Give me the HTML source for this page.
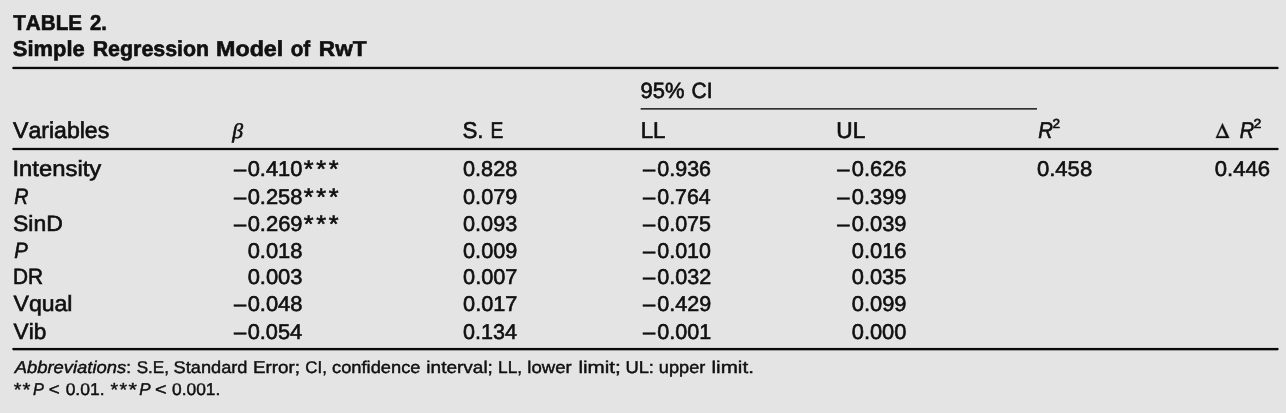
<!DOCTYPE html>
<html><head><meta charset="utf-8"><title>Table 2. Simple Regression Model of RwT</title>
<style>
html,body{margin:0;padding:0;}
body{width:1286px;height:413px;background:#e4e4e4;overflow:hidden;position:relative;font-family:"Liberation Sans",sans-serif;color:#111;}
span{position:absolute;left:0;top:0;white-space:pre;line-height:1;display:block;transform-origin:0 0;-webkit-text-stroke:0.6px #0c0c0c;text-rendering:geometricPrecision;font-kerning:none;}
.f{-webkit-text-stroke-width:0.42px;}
.b{font-weight:bold;}
.i{font-style:italic;}
.s{font-style:italic;font-family:"Liberation Serif",serif;}
div{position:absolute;}
section{position:absolute;left:0;top:0;width:1286px;height:413px;will-change:transform;filter:blur(0.4px);}
</style></head><body><section>
<span class="b" style="font-size:22px;transform:matrix(0.9374,0,0,0.9800,13.27,12.36)">TABLE</span>
<span class="b" style="font-size:22px;transform:matrix(0.9210,0,0,0.9800,90.10,12.36)">2.</span>
<span class="b" style="font-size:22px;transform:matrix(0.9951,0,0,0.9800,12.87,38.36)">Simple</span>
<span class="b" style="font-size:22px;transform:matrix(0.9719,0,0,0.9800,92.67,38.36)">Regression</span>
<span class="b" style="font-size:22px;transform:matrix(1.0575,0,0,0.9800,216.04,38.36)">Model</span>
<span class="b" style="font-size:22px;transform:matrix(0.9424,0,0,0.9800,290.69,38.36)">of</span>
<span class="b" style="font-size:22px;transform:matrix(1.0284,0,0,0.9800,318.79,38.36)">RwT</span>
<div style="left:13px;top:66px;width:1265.0px;height:1px;background:rgba(17,17,17,0.2)"></div>
<div style="left:13px;top:67px;width:1265.0px;height:2px;background:#0a0a0a"></div>
<div style="left:13px;top:69px;width:1265.0px;height:1px;background:rgba(17,17,17,0.12)"></div>
<div style="left:12px;top:67px;width:1.0px;height:2px;background:rgba(10,10,10,0.6)"></div>
<div style="left:1278px;top:67px;width:1.0px;height:2px;background:rgba(10,10,10,0.5)"></div>
<div style="left:13px;top:147px;width:1265.0px;height:1px;background:rgba(17,17,17,0.15)"></div>
<div style="left:13px;top:148px;width:1265.0px;height:2px;background:#0a0a0a"></div>
<div style="left:13px;top:150px;width:1265.0px;height:1px;background:rgba(17,17,17,0.15)"></div>
<div style="left:12px;top:148px;width:1.0px;height:2px;background:rgba(10,10,10,0.6)"></div>
<div style="left:1278px;top:148px;width:1.0px;height:2px;background:rgba(10,10,10,0.5)"></div>
<div style="left:13px;top:347px;width:1265.0px;height:1px;background:rgba(17,17,17,0.08)"></div>
<div style="left:13px;top:348px;width:1265.0px;height:2px;background:#0a0a0a"></div>
<div style="left:13px;top:350px;width:1265.0px;height:1px;background:rgba(17,17,17,0.35)"></div>
<div style="left:12px;top:348px;width:1.0px;height:2px;background:rgba(10,10,10,0.6)"></div>
<div style="left:1278px;top:348px;width:1.0px;height:2px;background:rgba(10,10,10,0.5)"></div>
<div style="left:641px;top:108px;width:396.0px;height:1px;background:#303030"></div>
<div style="left:641px;top:109px;width:396.0px;height:1px;background:#6a6a6a"></div>
<div style="left:640px;top:108px;width:1.0px;height:2px;background:rgba(48,48,48,0.3)"></div>
<span style="font-size:22px;transform:matrix(1.0493,0,0,1.0400,13.00,119.28)">Variables</span>
<span class="s" style="font-size:21px;transform:matrix(1.0310,0,0,1.0000,232.35,121.00)">β</span>
<span style="font-size:22px;transform:matrix(1.0125,0,0,1.0400,462.49,119.28)">S.</span>
<span style="font-size:22px;transform:matrix(0.8722,0,0,1.0400,490.53,119.28)">E</span>
<span style="font-size:22px;transform:matrix(0.9972,0,0,1.0000,640.57,80.00)">95%</span>
<span style="font-size:22px;transform:matrix(0.9548,0,0,1.0000,691.53,80.00)">CI</span>
<span style="font-size:22px;transform:matrix(1.0121,0,0,1.0400,640.67,119.28)">LL</span>
<span style="font-size:22px;transform:matrix(1.0313,0,0,1.0400,836.35,119.28)">UL</span>
<span class="i" style="font-size:22px;transform:matrix(0.9220,0,0,1.0400,1038.28,119.28)">R</span>
<span style="font-size:13px;transform:matrix(1.0469,0,0,1.0000,1052.42,117.00)">2</span>
<svg style="position:absolute;left:1210px;top:118px" width="26" height="24" viewBox="0 0 26 24"><path fill="#111" stroke="#111" stroke-width="0.35" fill-rule="evenodd" d="M5.8 19.9 12.5 5.2 19.3 19.9ZM7.85 18.3 16.02 18.3 11.9 9.41Z"/></svg>
<span class="i" style="font-size:22px;transform:matrix(0.9082,0,0,1.0400,1239.69,119.28)">R</span>
<span style="font-size:13px;transform:matrix(1.0806,0,0,1.0000,1253.59,117.00)">2</span>
<span style="font-size:22px;transform:matrix(1.0832,0,0,1.0000,12.50,158.00)">Intensity</span>
<span style="font-size:22px;transform:matrix(0.9980,0,0,0.9700,234.10,158.54)">–</span>
<span style="font-size:22px;transform:matrix(0.9937,0,0,0.9700,247.65,158.54)">0.410</span>
<span style="font-size:24px;transform:matrix(1.0492,0,0,1.0000,303.79,158.00)">*</span>
<span style="font-size:24px;transform:matrix(1.0492,0,0,1.0000,316.24,158.00)">*</span>
<span style="font-size:24px;transform:matrix(1.0492,0,0,1.0000,328.69,158.00)">*</span>
<span style="font-size:22px;transform:matrix(0.9843,0,0,0.9700,463.05,158.54)">0.828</span>
<span style="font-size:22px;transform:matrix(0.9980,0,0,0.9700,643.10,158.54)">–</span>
<span style="font-size:22px;transform:matrix(0.9769,0,0,0.9700,657.26,158.54)">0.936</span>
<span style="font-size:22px;transform:matrix(0.9980,0,0,0.9700,837.30,158.54)">–</span>
<span style="font-size:22px;transform:matrix(0.9938,0,0,0.9700,851.75,158.54)">0.626</span>
<span class="i" style="font-size:22px;transform:matrix(0.8944,0,0,1.0000,14.19,186.00)">R</span>
<span style="font-size:22px;transform:matrix(0.9980,0,0,0.9700,234.10,186.54)">–</span>
<span style="font-size:22px;transform:matrix(0.9955,0,0,0.9700,247.64,186.54)">0.258</span>
<span style="font-size:24px;transform:matrix(1.0492,0,0,1.0000,303.79,186.00)">*</span>
<span style="font-size:24px;transform:matrix(1.0492,0,0,1.0000,316.24,186.00)">*</span>
<span style="font-size:24px;transform:matrix(1.0492,0,0,1.0000,328.69,186.00)">*</span>
<span style="font-size:22px;transform:matrix(0.9858,0,0,0.9700,463.05,186.54)">0.079</span>
<span style="font-size:22px;transform:matrix(0.9980,0,0,0.9700,643.10,186.54)">–</span>
<span style="font-size:22px;transform:matrix(0.9711,0,0,0.9700,657.27,186.54)">0.764</span>
<span style="font-size:22px;transform:matrix(0.9980,0,0,0.9700,837.30,186.54)">–</span>
<span style="font-size:22px;transform:matrix(0.9953,0,0,0.9700,851.74,186.54)">0.399</span>
<span style="font-size:22px;transform:matrix(1.0431,0,0,1.0000,13.06,213.00)">SinD</span>
<span style="font-size:22px;transform:matrix(0.9980,0,0,0.9700,234.10,213.54)">–</span>
<span style="font-size:22px;transform:matrix(0.9971,0,0,0.9700,247.64,213.54)">0.269</span>
<span style="font-size:24px;transform:matrix(1.0492,0,0,1.0000,303.79,213.00)">*</span>
<span style="font-size:24px;transform:matrix(1.0492,0,0,1.0000,316.24,213.00)">*</span>
<span style="font-size:24px;transform:matrix(1.0492,0,0,1.0000,328.69,213.00)">*</span>
<span style="font-size:22px;transform:matrix(0.9845,0,0,0.9700,463.05,213.54)">0.093</span>
<span style="font-size:22px;transform:matrix(0.9980,0,0,0.9700,643.10,213.54)">–</span>
<span style="font-size:22px;transform:matrix(0.9761,0,0,0.9700,657.26,213.54)">0.075</span>
<span style="font-size:22px;transform:matrix(0.9980,0,0,0.9700,837.30,213.54)">–</span>
<span style="font-size:22px;transform:matrix(0.9953,0,0,0.9700,851.74,213.54)">0.039</span>
<span class="i" style="font-size:22px;transform:matrix(0.9237,0,0,1.0000,14.27,240.00)">P</span>
<span style="font-size:22px;transform:matrix(0.9955,0,0,0.9700,247.64,240.54)">0.018</span>
<span style="font-size:22px;transform:matrix(0.9858,0,0,0.9700,463.05,240.54)">0.009</span>
<span style="font-size:22px;transform:matrix(0.9980,0,0,0.9700,643.10,240.54)">–</span>
<span style="font-size:22px;transform:matrix(0.9750,0,0,0.9700,657.26,240.54)">0.010</span>
<span style="font-size:22px;transform:matrix(0.9938,0,0,0.9700,851.75,240.54)">0.016</span>
<span style="font-size:22px;transform:matrix(0.9465,0,0,1.0000,12.89,266.00)">DR</span>
<span style="font-size:22px;transform:matrix(0.9957,0,0,0.9700,247.64,266.54)">0.003</span>
<span style="font-size:22px;transform:matrix(0.9870,0,0,0.9700,463.05,266.54)">0.007</span>
<span style="font-size:22px;transform:matrix(0.9980,0,0,0.9700,643.10,266.54)">–</span>
<span style="font-size:22px;transform:matrix(0.9795,0,0,0.9700,657.26,266.54)">0.032</span>
<span style="font-size:22px;transform:matrix(0.9930,0,0,0.9700,851.75,266.54)">0.035</span>
<span style="font-size:22px;transform:matrix(1.0457,0,0,1.0000,13.60,293.00)">Vqual</span>
<span style="font-size:22px;transform:matrix(0.9980,0,0,0.9700,234.10,293.54)">–</span>
<span style="font-size:22px;transform:matrix(0.9955,0,0,0.9700,247.64,293.54)">0.048</span>
<span style="font-size:22px;transform:matrix(0.9870,0,0,0.9700,463.05,293.54)">0.017</span>
<span style="font-size:22px;transform:matrix(0.9980,0,0,0.9700,643.10,293.54)">–</span>
<span style="font-size:22px;transform:matrix(0.9783,0,0,0.9700,657.26,293.54)">0.429</span>
<span style="font-size:22px;transform:matrix(0.9953,0,0,0.9700,851.74,293.54)">0.099</span>
<span style="font-size:22px;transform:matrix(1.0268,0,0,1.0000,13.60,321.00)">Vib</span>
<span style="font-size:22px;transform:matrix(0.9980,0,0,0.9700,234.10,321.54)">–</span>
<span style="font-size:22px;transform:matrix(0.9897,0,0,0.9700,247.65,321.54)">0.054</span>
<span style="font-size:22px;transform:matrix(0.9785,0,0,0.9700,463.06,321.54)">0.134</span>
<span style="font-size:22px;transform:matrix(0.9980,0,0,0.9700,643.10,321.54)">–</span>
<span style="font-size:22px;transform:matrix(0.9789,0,0,0.9700,657.26,321.54)">0.001</span>
<span style="font-size:22px;transform:matrix(0.9918,0,0,0.9700,851.75,321.54)">0.000</span>
<span style="font-size:22px;transform:matrix(1.0030,0,0,0.9700,1036.94,158.54)">0.458</span>
<span style="font-size:22px;transform:matrix(1.0032,0,0,0.9700,1214.84,158.54)">0.446</span>
<span class="i f" style="font-size:17px;transform:matrix(1.0820,0,0,1.0000,14.72,359.00)">Abbreviations</span>
<span class="f" style="font-size:17px;transform:matrix(1.0000,0,0,1.0000,126.36,359.00)">:</span>
<span class="f" style="font-size:17px;transform:matrix(1.0052,0,0,1.0000,136.63,359.00)">S.E,</span>
<span class="f" style="font-size:17px;transform:matrix(1.0708,0,0,1.0000,173.58,359.00)">Standard</span>
<span class="f" style="font-size:17px;transform:matrix(1.1087,0,0,1.0000,252.96,359.00)">Error;</span>
<span class="f" style="font-size:17px;transform:matrix(0.9921,0,0,1.0000,305.35,359.00)">CI,</span>
<span class="f" style="font-size:17px;transform:matrix(1.0759,0,0,1.0000,332.03,359.00)">confidence</span>
<span class="f" style="font-size:17px;transform:matrix(1.1182,0,0,1.0000,426.34,359.00)">interval;</span>
<span class="f" style="font-size:17px;transform:matrix(1.0178,0,0,1.0000,498.09,359.00)">LL,</span>
<span class="f" style="font-size:17px;transform:matrix(1.0940,0,0,1.0000,527.26,359.00)">lower</span>
<span class="f" style="font-size:17px;transform:matrix(1.2143,0,0,1.0000,578.42,359.00)">limit;</span>
<span class="f" style="font-size:17px;transform:matrix(1.0801,0,0,1.0000,625.39,359.00)">UL:</span>
<span class="f" style="font-size:17px;transform:matrix(1.0686,0,0,1.0000,658.83,359.00)">upper</span>
<span class="f" style="font-size:17px;transform:matrix(1.2121,0,0,1.0000,711.52,359.00)">limit.</span>
<span class="f" style="font-size:19px;transform:matrix(1.0278,0,0,1.0000,13.80,381.00)">*</span>
<span class="f" style="font-size:19px;transform:matrix(1.0720,0,0,1.0000,22.58,381.00)">*</span>
<span class="i f" style="font-size:17px;transform:matrix(0.9600,0,0,1.0000,33.11,381.00)">P</span>
<span class="f" style="font-size:17px;transform:matrix(1.0994,0,0,1.0000,48.79,381.00)">&lt;</span>
<span class="f" style="font-size:17px;transform:matrix(1.0277,0,0,1.0000,65.63,381.00)">0.01.</span>
<span class="f" style="font-size:19px;transform:matrix(1.0278,0,0,1.0000,110.40,381.00)">*</span>
<span class="f" style="font-size:19px;transform:matrix(1.0278,0,0,1.0000,119.50,381.00)">*</span>
<span class="f" style="font-size:19px;transform:matrix(1.1456,0,0,1.0000,128.56,381.00)">*</span>
<span class="i f" style="font-size:17px;transform:matrix(0.9974,0,0,1.0000,139.19,381.00)">P</span>
<span class="f" style="font-size:17px;transform:matrix(1.1720,0,0,1.0000,154.93,381.00)">&lt;</span>
<span class="f" style="font-size:17px;transform:matrix(1.0229,0,0,1.0000,172.03,381.00)">0.001.</span>
</section></body></html>
